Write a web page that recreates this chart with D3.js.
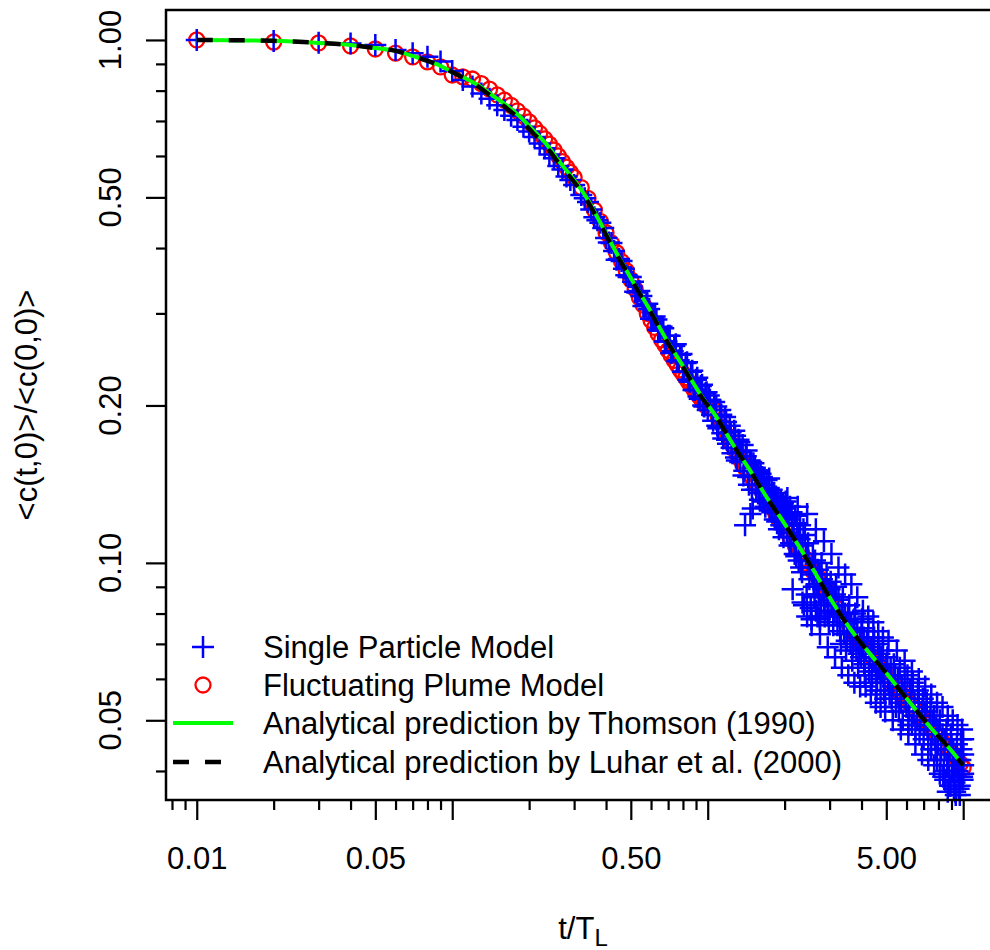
<!DOCTYPE html>
<html>
<head>
<meta charset="utf-8">
<script src="https://d3js.org/d3.v7.min.js"></script>
<style>
  body { margin: 0; overflow: hidden; background: #fff; }
  text { font-family: "Liberation Sans", Arial, Helvetica, sans-serif; fill: #000; }
</style>
</head>
<body>
<svg id="chart"></svg>
<script>
// analytical curves (t/T_L, normalised concentration)
const curveT = [0.01, 0.02, 0.03, 0.04, 0.05, 0.06, 0.07, 0.08, 0.09, 0.1, 0.112, 0.126, 0.145, 0.164, 0.185,
  0.207, 0.235, 0.265, 0.3, 0.34, 0.38, 0.44, 0.51, 0.6, 0.69, 0.8, 0.93, 1.09, 1.26, 1.47, 1.71, 1.98,
  2.3, 2.68, 3.1, 3.6, 4.2, 4.9, 5.7, 6.6, 7.6, 8.9, 10];
const thomsonC = [1.0, 0.996, 0.987, 0.978, 0.965, 0.953, 0.932, 0.912, 0.892, 0.868, 0.846, 0.82, 0.781, 0.748, 0.712,
  0.673, 0.63, 0.582, 0.54, 0.494, 0.447, 0.391, 0.345, 0.302, 0.267, 0.238, 0.211, 0.189, 0.168, 0.1498, 0.133, 0.1197,
  0.1067, 0.0943, 0.0837, 0.075, 0.0681, 0.0623, 0.0568, 0.052, 0.0479, 0.044, 0.041];
const luharC = [1.0, 0.996, 0.987, 0.978, 0.965, 0.953, 0.932, 0.912, 0.892, 0.868, 0.844, 0.815, 0.774, 0.739, 0.703,
  0.664, 0.622, 0.576, 0.535, 0.49, 0.444, 0.389, 0.344, 0.301, 0.266, 0.237, 0.21, 0.189, 0.168, 0.1498, 0.133, 0.1197,
  0.1067, 0.0943, 0.0837, 0.075, 0.0681, 0.0623, 0.0568, 0.052, 0.0479, 0.044, 0.041];

// fluctuating plume model (red circles)
const plumeT = [0.01, 0.02, 0.03, 0.04, 0.05, 0.06, 0.07, 0.08, 0.09, 0.10,
  0.11, 0.12, 0.13, 0.14, 0.15, 0.16, 0.17, 0.18, 0.19, 0.20, 0.21, 0.22, 0.23, 0.24, 0.25, 0.26, 0.27, 0.28, 0.29, 0.30,
  0.32, 0.34, 0.36, 0.38, 0.40, 0.42, 0.44, 0.46, 0.48, 0.50, 0.52, 0.54, 0.56, 0.58, 0.60, 0.62, 0.64, 0.66, 0.68, 0.70,
  0.72, 0.74, 0.76, 0.78, 0.80, 0.82, 0.84, 0.86, 0.88, 0.90, 0.92, 0.94, 0.96, 0.98, 1.00,
  1.05, 1.10, 1.15, 1.20, 1.25, 1.30, 1.35, 1.40, 1.45, 1.50, 1.55, 1.60, 1.65, 1.70, 1.75, 1.80, 1.85, 1.90, 1.95, 2.00,
  2.1, 2.2, 2.3, 2.4, 2.5, 2.6, 2.7, 2.8, 2.9, 3.0,
  3.2, 3.4, 3.6, 3.8, 4.0, 4.2, 4.4, 4.6, 4.8, 5.0,
  5.25, 5.5, 5.75, 6.0, 6.25, 6.5, 6.75, 7.0, 7.25, 7.5, 7.75, 8.0, 8.25, 8.5, 8.75, 9.0, 9.25, 9.5, 9.75, 10.0];
const plumeC = [1.0, 0.991, 0.987, 0.974, 0.961, 0.944, 0.928, 0.908, 0.888, 0.857,
  0.85, 0.842, 0.825, 0.805, 0.785, 0.767, 0.75, 0.732, 0.715, 0.697, 0.679, 0.663, 0.647, 0.632, 0.616, 0.600, 0.585, 0.571, 0.558, 0.546,
  0.522, 0.498, 0.473, 0.450, 0.428, 0.409, 0.392, 0.377, 0.362, 0.348, 0.334, 0.322, 0.311, 0.300, 0.291, 0.282, 0.274, 0.267, 0.261, 0.255,
  0.249, 0.244, 0.239, 0.234, 0.230, 0.226, 0.222, 0.219, 0.215, 0.212, 0.209, 0.206, 0.203, 0.200, 0.198,
  0.197, 0.19, 0.182, 0.175, 0.168, 0.162, 0.157, 0.152, 0.148, 0.145, 0.142, 0.139, 0.136, 0.133, 0.130, 0.127, 0.124, 0.121, 0.119, 0.116,
  0.112, 0.108, 0.105, 0.102, 0.099, 0.096, 0.094, 0.091, 0.089, 0.086,
  0.082, 0.078, 0.075, 0.0725, 0.070, 0.068, 0.066, 0.0643, 0.0627, 0.061,
  0.0593, 0.0577, 0.0562, 0.0548, 0.0535, 0.0523, 0.0512, 0.0501, 0.0491, 0.0481, 0.0472, 0.0464, 0.0456, 0.0448, 0.0441,
  0.0434, 0.0427, 0.0420, 0.0413, 0.0406];

// single particle model (blue crosses)
const particleT = [0.01, 0.02, 0.03, 0.04, 0.05, 0.06, 0.07, 0.08, 0.09, 0.10,
  0.11, 0.12, 0.13, 0.14, 0.15, 0.16, 0.17, 0.18, 0.19, 0.20, 0.21, 0.22, 0.23, 0.24, 0.25, 0.26, 0.27, 0.28, 0.29, 0.30,
  0.32, 0.34, 0.36, 0.38, 0.40, 0.42, 0.44, 0.46, 0.48, 0.50, 0.52, 0.54, 0.56, 0.58, 0.60, 0.62, 0.64, 0.66, 0.68, 0.70,
  0.72, 0.74, 0.76, 0.78, 0.80, 0.82, 0.84, 0.86, 0.88, 0.90, 0.92, 0.94, 0.96, 0.98, 1.00,
  1.02, 1.05, 1.08, 1.10, 1.13, 1.15, 1.18, 1.20, 1.23, 1.25, 1.28, 1.30, 1.33, 1.35, 1.38, 1.40, 1.42, 1.45, 1.47, 1.48,
  1.50, 1.53, 1.55, 1.58, 1.60, 1.63, 1.65, 1.68, 1.70, 1.73, 1.75, 1.78, 1.80, 1.83, 1.85, 1.88, 1.90, 1.93, 1.95, 1.97,
  1.98, 2.00, 2.05, 2.10, 2.12, 2.15, 2.20, 2.22, 2.25, 2.30, 2.32, 2.35, 2.38, 2.40, 2.45, 2.48, 2.50, 2.55, 2.58, 2.60,
  2.65, 2.70, 2.72, 2.75, 2.80, 2.85, 2.90, 2.95, 3.00, 3.05, 3.10, 3.15, 3.20, 3.30, 3.35, 3.40, 3.50, 3.55, 3.60, 3.70,
  3.75, 3.80, 3.90, 4.00, 4.05, 4.10, 4.20, 4.30, 4.40, 4.45, 4.50, 4.60, 4.70, 4.80, 4.90, 5.00, 5.10, 5.25, 5.40, 5.50,
  5.60, 5.75, 6.00, 6.10, 6.25, 6.40, 6.50, 6.70, 6.80, 7.00, 7.10, 7.25, 7.50, 7.60, 7.75, 7.90, 8.00, 8.20, 8.40, 8.50,
  8.70, 8.75, 8.80, 9.00, 9.10, 9.20, 9.25, 9.40, 9.50, 9.60, 9.75, 9.80, 9.90, 10.0];
const particleC = [1.0, 0.995, 0.988, 0.984, 0.978, 0.957, 0.943, 0.929, 0.909, 0.872,
  0.838, 0.815, 0.79, 0.772, 0.75, 0.735, 0.716, 0.703, 0.682, 0.668, 0.652, 0.634, 0.621, 0.604, 0.594, 0.574, 0.565, 0.548, 0.54, 0.528,
  0.505, 0.49, 0.458, 0.447, 0.418, 0.409, 0.38, 0.378, 0.355, 0.352, 0.33, 0.331, 0.31, 0.313, 0.293, 0.296, 0.279, 0.283, 0.265, 0.272,
  0.252, 0.26, 0.243, 0.25, 0.232, 0.241, 0.224, 0.232, 0.214, 0.224, 0.208, 0.218, 0.2, 0.211, 0.196,
  0.205, 0.187, 0.199, 0.181, 0.192, 0.173, 0.186, 0.169, 0.178, 0.162, 0.175, 0.157, 0.170, 0.163, 0.147, 0.118, 0.164, 0.141, 0.124, 0.156,
  0.127, 0.152, 0.138, 0.150, 0.132, 0.146, 0.141, 0.128, 0.144, 0.139, 0.126, 0.138, 0.132, 0.121, 0.134, 0.128, 0.116, 0.131, 0.125, 0.130,
  0.112, 0.127, 0.124, 0.128, 0.109, 0.118, 0.123, 0.103, 0.112, 0.118, 0.098, 0.108, 0.083, 0.113, 0.079, 0.101, 0.093, 0.076, 0.104, 0.090,
  0.081, 0.097, 0.087, 0.078, 0.093, 0.084, 0.091, 0.080, 0.089, 0.083, 0.076, 0.087, 0.080, 0.074, 0.083, 0.077, 0.071, 0.080, 0.074, 0.069,
  0.078, 0.072, 0.067, 0.075, 0.069, 0.064, 0.071, 0.066, 0.061, 0.070, 0.065, 0.060, 0.067, 0.062, 0.057, 0.064, 0.059, 0.055, 0.061, 0.056,
  0.052, 0.058, 0.053, 0.049, 0.056, 0.051, 0.048, 0.054, 0.049, 0.046, 0.052, 0.048, 0.044, 0.050, 0.046, 0.042, 0.048, 0.044, 0.040, 0.046,
  0.0365, 0.043, 0.039, 0.045, 0.041, 0.037, 0.038, 0.043, 0.040, 0.037, 0.042, 0.046, 0.039, 0.041];
// more single particle points read between the ones above, as [t, c]
const particleMore = [
  [0.33, 0.498], [0.35, 0.474], [0.37, 0.452], [0.39, 0.437], [0.41, 0.41], [0.43, 0.395], [0.45, 0.381],
  [0.47, 0.365], [0.49, 0.352], [0.51, 0.345], [0.53, 0.329], [0.55, 0.324], [0.57, 0.310], [0.59, 0.306],
  [0.61, 0.293], [0.63, 0.292], [0.65, 0.278], [0.67, 0.281], [0.69, 0.265], [0.71, 0.272], [0.73, 0.254],
  [0.75, 0.262], [0.77, 0.244], [0.79, 0.251], [0.81, 0.232], [0.83, 0.242], [0.85, 0.222], [0.87, 0.233],
  [0.89, 0.214], [0.91, 0.226], [0.93, 0.206], [0.95, 0.219], [0.97, 0.199], [0.99, 0.212],
  [1.01, 0.209], [1.04, 0.192], [1.06, 0.203], [1.09, 0.183], [1.12, 0.196], [1.14, 0.177], [1.17, 0.190],
  [1.19, 0.172], [1.22, 0.183], [1.24, 0.166], [1.27, 0.179], [1.29, 0.159], [1.32, 0.172], [1.34, 0.156],
  [1.37, 0.168], [1.39, 0.150], [1.41, 0.160], [1.44, 0.146], [1.46, 0.157], [1.49, 0.138], [1.51, 0.155],
  [1.54, 0.141], [1.56, 0.149], [1.59, 0.136], [1.61, 0.148], [1.64, 0.131], [1.66, 0.144], [1.69, 0.137],
  [1.72, 0.130], [1.74, 0.145], [1.77, 0.133], [1.79, 0.125], [1.82, 0.136], [1.84, 0.129], [1.87, 0.120],
  [1.89, 0.133], [1.92, 0.126], [1.94, 0.118], [1.96, 0.129], [1.99, 0.122],
  [2.02, 0.131], [2.04, 0.114], [2.07, 0.121], [2.09, 0.108], [2.13, 0.125], [2.17, 0.112], [2.19, 0.104],
  [2.24, 0.119], [2.27, 0.101], [2.29, 0.111], [2.34, 0.096], [2.37, 0.116], [2.42, 0.104], [2.44, 0.087],
  [2.47, 0.109], [2.52, 0.098], [2.53, 0.082], [2.57, 0.095], [2.62, 0.086], [2.63, 0.101], [2.67, 0.091],
  [2.69, 0.079], [2.74, 0.095], [2.77, 0.083], [2.79, 0.100], [2.83, 0.089], [2.87, 0.079], [2.92, 0.095],
  [2.94, 0.086], [2.98, 0.077], [3.03, 0.092], [3.08, 0.085], [3.12, 0.081], [3.18, 0.090], [3.22, 0.076],
  [3.25, 0.085], [3.28, 0.079], [3.32, 0.070], [3.38, 0.086], [3.42, 0.073], [3.45, 0.080], [3.48, 0.068],
  [3.52, 0.077], [3.58, 0.083], [3.62, 0.070], [3.65, 0.077], [3.68, 0.065], [3.72, 0.074], [3.78, 0.080],
  [3.82, 0.068], [3.85, 0.075], [3.88, 0.063], [3.95, 0.072], [3.98, 0.066], [4.02, 0.078], [4.08, 0.072],
  [4.12, 0.061], [4.15, 0.068], [4.25, 0.074], [4.28, 0.062], [4.35, 0.069], [4.38, 0.059], [4.42, 0.066],
  [4.48, 0.072], [4.55, 0.062], [4.58, 0.057], [4.65, 0.070], [4.68, 0.063], [4.75, 0.059], [4.78, 0.066],
  [4.85, 0.068], [4.88, 0.061], [4.95, 0.055], [5.05, 0.066], [5.08, 0.060], [5.15, 0.056], [5.20, 0.063],
  [5.30, 0.058], [5.35, 0.064], [5.45, 0.053], [5.55, 0.060], [5.65, 0.063], [5.70, 0.054], [5.80, 0.050],
  [5.90, 0.059], [5.95, 0.055], [6.05, 0.061], [6.15, 0.052], [6.20, 0.057], [6.30, 0.049], [6.35, 0.059],
  [6.45, 0.054], [6.60, 0.050], [6.65, 0.057], [6.75, 0.047], [6.90, 0.052], [6.95, 0.055], [7.05, 0.049],
  [7.20, 0.054], [7.30, 0.045], [7.40, 0.050], [7.45, 0.053], [7.55, 0.047], [7.70, 0.051], [7.80, 0.044],
  [7.85, 0.049], [7.95, 0.045], [8.10, 0.050], [8.15, 0.042], [8.30, 0.047], [8.35, 0.039], [8.45, 0.044],
  [8.60, 0.048], [8.65, 0.041], [8.85, 0.044], [8.90, 0.0375], [8.95, 0.047], [9.05, 0.040], [9.15, 0.044],
  [9.30, 0.041], [9.35, 0.036], [9.45, 0.045], [9.55, 0.042], [9.65, 0.039], [9.70, 0.0375], [9.85, 0.044],
  [9.95, 0.0385], [10.0, 0.043], [10.0, 0.0395]];
// outer single particle points (widest scatter at long times), as [t, c]
const particleOuter = [
  [2.05, 0.133], [2.15, 0.089], [2.25, 0.128], [2.35, 0.084], [2.45, 0.124], [2.55, 0.078], [2.65, 0.116],
  [2.75, 0.073], [2.85, 0.110], [2.95, 0.069], [3.05, 0.104], [3.15, 0.066], [3.25, 0.098], [3.35, 0.063],
  [3.45, 0.095], [3.55, 0.061], [3.65, 0.091], [3.75, 0.059], [3.85, 0.086], [3.95, 0.058], [4.05, 0.081],
  [4.15, 0.058], [4.25, 0.079], [4.35, 0.056], [4.45, 0.077], [4.55, 0.054], [4.65, 0.074], [4.75, 0.053],
  [4.85, 0.072], [4.95, 0.052], [5.1, 0.071], [5.3, 0.050], [5.5, 0.068], [5.7, 0.048], [5.9, 0.065],
  [6.1, 0.047], [6.3, 0.062], [6.5, 0.045], [6.7, 0.060], [6.9, 0.043], [7.1, 0.058], [7.3, 0.042],
  [7.5, 0.056], [7.7, 0.041], [7.9, 0.054], [8.1, 0.0395], [8.3, 0.053], [8.5, 0.0385], [8.7, 0.051],
  [8.9, 0.0375], [9.1, 0.050], [9.3, 0.0365], [9.5, 0.049], [9.7, 0.036], [9.9, 0.048], [10.0, 0.046]];

// axis ticks
const xMajor = [0.01, 0.05, 0.1, 0.5, 1, 5, 10];
const xMinor = [0.008, 0.009, 0.02, 0.03, 0.04, 0.06, 0.07, 0.08, 0.09, 0.2, 0.3, 0.4, 0.6, 0.7, 0.8, 0.9,
  2, 3, 4, 6, 7, 8, 9];
const xLabels = new Map([[0.01, "0.01"], [0.05, "0.05"], [0.5, "0.50"], [5, "5.00"]]);
const yMajor = [1, 0.5, 0.2, 0.1, 0.05];
const yMinor = [0.9, 0.8, 0.7, 0.6, 0.4, 0.3, 0.09, 0.08, 0.07, 0.06, 0.04];
const yLabels = ["1.00", "0.50", "0.20", "0.10", "0.05"];

const legendItems = ["Single Particle Model", "Fluctuating Plume Model",
  "Analytical prediction by Thomson (1990)", "Analytical prediction by Luhar et al. (2000)"];

const svg = d3.select("#chart").attr("width", 1000).attr("height", 950);

const plotLeft = 166, plotTop = 10, plotRight = 994, plotBottom = 800;
const fontSize = 31;

const x = d3.scaleLog().domain([0.00758, 13.2]).range([plotLeft, plotRight]);
const y = d3.scaleLog().domain([0.0352, 1.141]).range([plotBottom, plotTop]);

const blue = "#0000ff", red = "#ff0000", green = "#00ff00";
const plusPath = "M-11,0H11M0,-11V11";

// x axis
const xAxisG = svg.append("g").attr("transform", `translate(0,${plotBottom})`);
xAxisG.call(d3.axisBottom(x).tickValues(xMajor).tickSize(20).tickPadding(27)
  .tickFormat(d => xLabels.get(d) || ""));
xAxisG.append("g").call(d3.axisBottom(x).tickValues(xMinor).tickSize(10).tickFormat(""));
xAxisG.selectAll(".domain").remove();
xAxisG.selectAll("line").attr("stroke", "#000").attr("stroke-width", 2.2);
xAxisG.selectAll("text").attr("font-size", fontSize).attr("fill", "#000")
  .attr("font-family", "'Liberation Sans', Arial, sans-serif");

// y axis
const yAxisG = svg.append("g").attr("transform", `translate(${plotLeft},0)`);
yAxisG.call(d3.axisLeft(y).tickValues(yMajor).tickSize(20).tickFormat(""));
yAxisG.append("g").call(d3.axisLeft(y).tickValues(yMinor).tickSize(10).tickFormat(""));
yAxisG.selectAll(".domain").remove();
yAxisG.selectAll("line").attr("stroke", "#000").attr("stroke-width", 2.2);

svg.append("g").selectAll("text")
  .data(yMajor)
  .enter()
  .append("text")
  .attr("x", 121)
  .attr("y", d => y(d))
  .attr("transform", d => `rotate(-90,121,${y(d)})`)
  .attr("text-anchor", "middle")
  .attr("font-size", fontSize)
  .text((d, i) => yLabels[i]);

// axis titles
const xTitle = svg.append("text")
  .attr("x", 583)
  .attr("y", 939)
  .attr("text-anchor", "middle")
  .attr("font-size", fontSize);
xTitle.append("tspan").text("t/T");
xTitle.append("tspan").attr("dy", 7).attr("font-size", 24).text("L");

svg.append("text")
  .attr("transform", `translate(37,${(plotTop + plotBottom) / 2}) rotate(-90)`)
  .attr("text-anchor", "middle")
  .attr("font-size", fontSize)
  .text("<c(t,0)>/<c(0,0)>");

// red circles
const plume = plumeT.map((t, i) => ({ t: t, c: plumeC[i] }));
svg.append("g")
  .selectAll("circle")
  .data(plume)
  .enter()
  .append("circle")
  .attr("cx", d => x(d.t))
  .attr("cy", d => y(d.c))
  .attr("r", 7.5)
  .attr("fill", "none")
  .attr("stroke", red)
  .attr("stroke-width", 2.3);

// blue crosses
const particle = particleT.map((t, i) => ({ t: t, c: particleC[i] }))
  .concat(particleMore.map(p => ({ t: p[0], c: p[1] })))
  .concat(particleOuter.map(p => ({ t: p[0], c: p[1] })));
svg.append("g")
  .selectAll("path")
  .data(particle)
  .enter()
  .append("path")
  .attr("d", plusPath)
  .attr("transform", d => `translate(${x(d.t)},${y(d.c)})`)
  .attr("fill", "none")
  .attr("stroke", blue)
  .attr("stroke-width", 2.5);

// analytical lines
const line = d3.line()
  .x(d => x(d.t))
  .y(d => y(d.c))
  .curve(d3.curveMonotoneX);

svg.append("path")
  .datum(curveT.map((t, i) => ({ t: t, c: thomsonC[i] })))
  .attr("d", line)
  .attr("fill", "none")
  .attr("stroke", green)
  .attr("stroke-width", 4);

svg.append("path")
  .datum(curveT.map((t, i) => ({ t: t, c: luharC[i] })))
  .attr("d", line)
  .attr("fill", "none")
  .attr("stroke", "#000")
  .attr("stroke-width", 4.5)
  .attr("stroke-dasharray", "16,16");

// box
svg.append("rect")
  .attr("x", plotLeft)
  .attr("y", plotTop)
  .attr("width", plotRight - plotLeft)
  .attr("height", plotBottom - plotTop)
  .attr("fill", "none")
  .attr("stroke", "#000")
  .attr("stroke-width", 2.5);

// legend
const legend = svg.append("g");
const rowY = [647, 685, 723, 762];
legend.append("path").attr("d", plusPath)
  .attr("transform", `translate(203,${rowY[0]})`)
  .attr("stroke", blue).attr("stroke-width", 2.5);
legend.append("circle").attr("cx", 203).attr("cy", rowY[1]).attr("r", 7.5)
  .attr("fill", "none").attr("stroke", red).attr("stroke-width", 2.3);
legend.append("line").attr("x1", 173).attr("x2", 233).attr("y1", rowY[2]).attr("y2", rowY[2])
  .attr("stroke", green).attr("stroke-width", 4);
legend.append("line").attr("x1", 173).attr("x2", 233).attr("y1", rowY[3]).attr("y2", rowY[3])
  .attr("stroke", "#000").attr("stroke-width", 4.5).attr("stroke-dasharray", "16,16");
legend.selectAll("text")
  .data(legendItems)
  .enter()
  .append("text")
  .attr("x", 263)
  .attr("y", (d, i) => rowY[i] + 11)
  .attr("font-size", fontSize)
  .text(d => d);
</script>
</body>
</html>
